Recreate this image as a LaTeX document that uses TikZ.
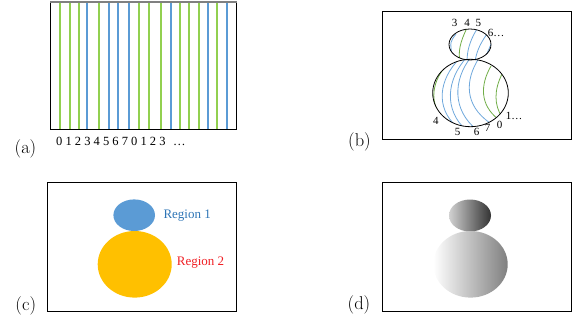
\documentclass[tikz,border=0pt]{standalone}
\usepackage{fontspec}
\newfontfamily\timesfont{Liberation Serif}
\usetikzlibrary{positioning}
\definecolor{LineGreen}{RGB}{146,208,80}
\definecolor{LineBlue}{RGB}{91,155,213}
\definecolor{CurveGreen}{RGB}{112,173,71}
\definecolor{CurveBlue}{RGB}{111,168,220}
\definecolor{RegionOrange}{RGB}{255,192,0}
\definecolor{TextBlue}{RGB}{46,117,182}
\definecolor{TextRed}{RGB}{240,30,35}

\begin{document}
\begin{tikzpicture}[x=1pt, y=-1pt,
    panel/.style={draw=black, line width=0.9pt},
    tag/.style={font=\fontsize{18.5}{20}\selectfont, inner sep=0pt},
    num/.style={font=\timesfont\fontsize{11}{12}\selectfont, inner sep=0pt},
    curve/.style={line width=0.8pt}]
\useasboundingbox (0,0) rectangle (580,322);

% (a) lineas verticales
\foreach \x/\c in {60.3/LineGreen, 69.7/LineGreen, 79/LineGreen, 87.3/LineBlue,
    99.3/LineGreen, 109.3/LineBlue, 118/LineBlue, 128.7/LineBlue,
    139/LineGreen, 149.3/LineGreen, 161.3/LineGreen, 170.7/LineBlue,
    180/LineGreen, 189.3/LineGreen, 199/LineGreen, 207.7/LineBlue,
    217.3/LineGreen, 227.3/LineBlue}{
    \draw[\c, line width=2.2pt] (\x,2) -- (\x,129);
}
\draw[panel] (50,1.7) -- (50,129) -- (236.7,129) -- (236.7,1.7);
\draw[black!50, line width=1.6pt] (50,1.7) -- (236.7,1.7);
\node[anchor=west, inner sep=0pt, font=\timesfont\fontsize{12.5}{13}\selectfont]
    (numsA) at (56,141) {0 1 2 3 4 5 6 7 0 1 2 3 \hspace{0.35em}\ldots};
\node[tag] (lblA) at (25.5,149) {(a)};

% (b) figura con curvas
\draw[panel] (382.3,11) rectangle (571.7,139.3);
\begin{scope}
    \clip (470,44.5) ellipse [x radius=21, y radius=15.5];
    \draw[curve, CurveBlue] (456,34) .. controls (450,42) .. (452,55);
    \draw[curve, CurveGreen] (467,28) .. controls (460,42) and (458,52) .. (460,62);
    \draw[curve, CurveBlue] (477,29) .. controls (469,42) and (467,52) .. (467,62);
    \draw[curve, CurveBlue] (487,34) .. controls (479,45) and (476,54) .. (475,62);
    \draw[curve, CurveBlue] (492,42) .. controls (488,50) .. (485,58);
\end{scope}
\begin{scope}
    \clip (470.5,93) ellipse [x radius=37.8, y radius=33.7];
    \draw[curve, CurveGreen] (450,62) .. controls (430,80) and (430,105) .. (442,116);
    \draw[curve, CurveBlue] (460,58) .. controls (438,80) and (436,108) .. (456,126);
    \draw[curve, CurveBlue] (467,57) .. controls (446,80) and (444,110) .. (466,130);
    \draw[curve, CurveBlue] (471,57) .. controls (453,80) and (452,110) .. (477,130);
    \draw[curve, CurveBlue] (479,58) .. controls (465,80) and (464,105) .. (490,123);
    \draw[curve, CurveGreen] (491,66) .. controls (480,85) and (480,105) .. (498,119);
    \draw[curve, CurveGreen] (502,74) .. controls (494,90) and (494,105) .. (502,117);
\end{scope}
\draw[line width=0.8pt] (470,44.5) ellipse [x radius=21, y radius=15.5];
\draw[line width=0.8pt] (470.5,93) ellipse [x radius=37.8, y radius=33.7];
\foreach \n/\x/\y [count=\i] in {3/454.5/23.3, 4/467.2/23.3, 5/478.3/23.3,
    4/435.8/120.8, 5/457.5/131.8, 6/476.7/131.7, 7/487.5/127.5, 0/499.7/125.2}{
    \node[num] (numB\i) at (\x,\y) {\n};
}
\node[num, anchor=west] (numBtop) at (487.7,32.5) {6\ldots};
\node[num, anchor=west] (numBbot) at (505.7,115.8) {1\ldots};
\node[tag] (lblB) at (359.5,141.7) {(b)};

% (c) regiones
\draw[panel] (47.7,182.3) rectangle (236.7,311);
\fill[LineBlue] (134.2,215.2) ellipse [x radius=20.8, y radius=15.8];
\fill[RegionOrange] (134.7,264.3) ellipse [x radius=37, y radius=33.3];
\node[anchor=west, inner sep=0pt, text=TextBlue, font=\timesfont\fontsize{13}{14}\selectfont]
    (regionOne) at (163.3,216) {Region 1};
\node[anchor=west, inner sep=0pt, text=TextRed, font=\timesfont\fontsize{13}{14}\selectfont]
    (regionTwo) at (176.7,262.7) {Region 2};
\node[tag] (lblC) at (25.8,305.5) {(c)};

% (d) sombreado
\draw[panel] (382.3,182.3) rectangle (571.7,311);
\shade[left color=black!18, right color=black!80] (470,215.5) ellipse [x radius=21, y radius=16];
\shade[left color=white, right color=black!50] (470.5,264.3) ellipse [x radius=37.2, y radius=33.3];
\node[tag] (lblD) at (359,305) {(d)};

\end{tikzpicture}
\end{document}
